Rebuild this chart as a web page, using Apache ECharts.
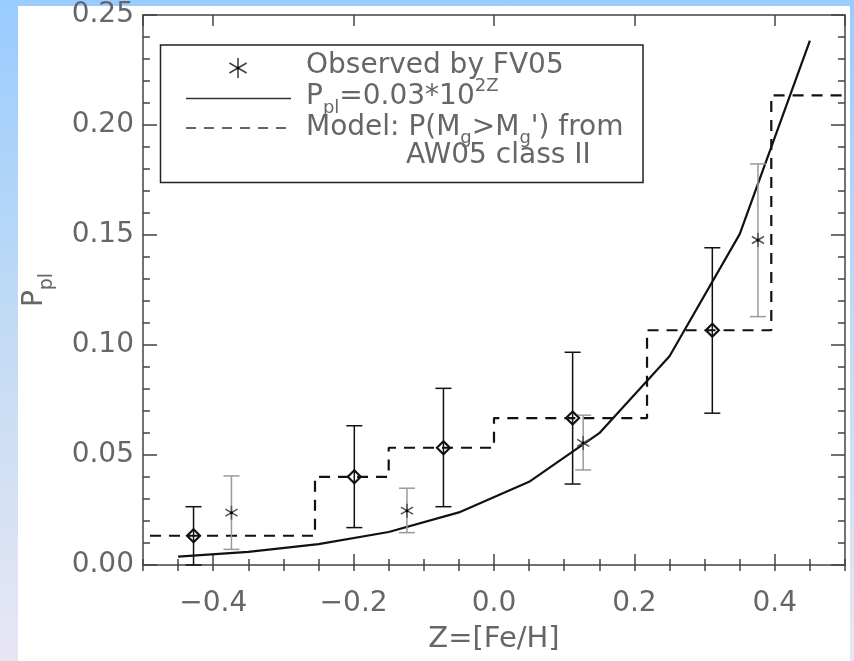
<!DOCTYPE html>
<html>
<head>
<meta charset="utf-8">
<script src="https://cdn.jsdelivr.net/npm/echarts@6/dist/echarts.min.js"></script>
<style>
  html, body { margin: 0; padding: 0; }
  body { width: 854px; height: 661px; position: relative; overflow: hidden;
         background: linear-gradient(to bottom, #99ccff 0%, #c2dbf4 50%, #e8e6f5 100%); }
  #panel { position: absolute; left: 18px; top: 6px; width: 832px; height: 655px; background: #ffffff; }
  #chart { position: absolute; left: 0; top: 0; width: 854px; height: 661px; }
</style>
</head>
<body>
<div id="panel"></div>
<div id="chart"></div>
<script>
// ---- data ----
// solid curve P_pl = 0.03*10^(2Z) (vertices as drawn)
const curveZ = [-0.45, -0.35, -0.25, -0.15, -0.05, 0.05, 0.15, 0.25, 0.35, 0.45];
const curveP = [0.0038, 0.0060, 0.0095, 0.0150, 0.0239, 0.0378, 0.0599, 0.0949, 0.1504, 0.2383];

// dashed model step function (bin left edges and levels)
const stepEdges  = [-0.49, -0.255, -0.15, 0.0, 0.218, 0.395, 0.5];
const stepLevels = [0.0133, 0.0401, 0.0533, 0.0668, 0.1067, 0.2135];

// model points (diamonds) with error bars
const modelZ  = [-0.428, -0.199, -0.072, 0.112, 0.311];
const modelP  = [0.0133, 0.0401, 0.0533, 0.0668, 0.1067];
const modelLo = [0.0000, 0.0170, 0.0265, 0.0368, 0.0690];
const modelHi = [0.0265, 0.0633, 0.0803, 0.0967, 0.1442];

// observed by FV05 (asterisks) with error bars
const obsZ  = [-0.374, -0.124, 0.127, 0.376];
const obsP  = [0.0238, 0.0247, 0.0555, 0.1477];
const obsLo = [0.0071, 0.0147, 0.0432, 0.1129];
const obsHi = [0.0405, 0.0349, 0.0681, 0.1823];

// axis ticks
const xMin = -0.5, xMax = 0.5, xMinorStep = 0.05;
const yMin = 0, yMax = 0.25, yStep = 0.05;

// texts
const xTitle = 'Z=[Fe/H]';
const legendTexts = ['Observed by FV05', 'P_pl=0.03*10^2Z', "Model: P(M_g>M_g') from", 'AW05 class II'];

// ---- build ----
const FONT = 'DejaVu Sans';
const TXT = '#666';
const AX = '#444';

const stepData = stepEdges.map((x, i) => [x, stepLevels[Math.min(i, stepLevels.length - 1)]]);
const curveData = curveZ.map((z, i) => [z, curveP[i]]);
const modelData = modelZ.map((z, i) => [z, modelP[i], modelLo[i], modelHi[i]]);
const obsData = obsZ.map((z, i) => [z, obsP[i], obsLo[i], obsHi[i]]);

function errRender(kind) {
  return function (params, api) {
    const x = api.value(0), y = api.value(1), lo = api.value(2), hi = api.value(3);
    const c = api.coord([x, y]), t = api.coord([x, hi]), b = api.coord([x, lo]);
    const barColor = kind === 'model' ? '#111' : '#9a9a9a';
    const w = 8;
    const ls = { stroke: barColor, lineWidth: 1.5 };
    const ch = [
      { type: 'line', shape: { x1: t[0], y1: t[1], x2: b[0], y2: b[1] }, style: ls },
      { type: 'line', shape: { x1: t[0] - w, y1: t[1], x2: t[0] + w, y2: t[1] }, style: ls },
      { type: 'line', shape: { x1: b[0] - w, y1: b[1], x2: b[0] + w, y2: b[1] }, style: ls }
    ];
    if (kind === 'model') {
      const r = 6.5;
      ch.push({ type: 'polygon', shape: { points: [[c[0], c[1] - r], [c[0] + r, c[1]], [c[0], c[1] + r], [c[0] - r, c[1]]] },
                style: { fill: 'none', stroke: '#111', lineWidth: 2.2 } });
    } else {
      const r = 7;
      for (let k = 0; k < 3; k++) {
        const a = Math.PI / 2 + k * Math.PI / 3;
        ch.push({ type: 'line', shape: { x1: c[0] - r * Math.cos(a), y1: c[1] - r * Math.sin(a), x2: c[0] + r * Math.cos(a), y2: c[1] + r * Math.sin(a) },
                  style: { stroke: '#555', lineWidth: 1.6 } });
      }
      ch.push({ type: 'circle', shape: { cx: c[0], cy: c[1], r: 1.5 }, style: { fill: '#000' } });
    }
    return { type: 'group', children: ch };
  };
}

function fmtX(v) {
  const r = Math.round(v * 10) / 10;
  if (Math.abs(r) < 1e-9) return '0.0';
  return (r < 0 ? '\u2212' : '') + Math.abs(r).toFixed(1);
}

const majorX = (pos, withLabels) => ({
  type: 'value', position: pos, min: xMin, max: xMax, splitNumber: 5,
  axisLine: { show: true, onZero: false, lineStyle: { color: AX, width: 1.5 } },
  axisTick: { show: true, inside: true, length: 11, lineStyle: { color: AX, width: 1.5 } },
  axisLabel: { show: withLabels, showMinLabel: false, showMaxLabel: false, formatter: fmtX,
               fontFamily: FONT, fontSize: 28, color: TXT, margin: 25 },
  splitLine: { show: false }
});
const minorX = (pos) => ({
  type: 'value', position: pos, min: xMin, max: xMax, interval: xMinorStep,
  axisLine: { show: false },
  axisTick: { show: true, inside: true, length: 6, lineStyle: { color: AX, width: 1.5 } },
  axisLabel: { show: false }, splitLine: { show: false }
});
const yAx = (pos, withLabels) => ({
  type: 'value', position: pos, min: yMin, max: yMax, interval: yStep,
  axisLine: { show: true, onZero: false, lineStyle: { color: AX, width: 1.5 } },
  axisTick: { show: true, inside: true, length: 14, lineStyle: { color: AX, width: 1.5 } },
  minorTick: { show: true, splitNumber: 5, length: 7, lineStyle: { color: AX, width: 1.5 } },
  axisLabel: { show: withLabels, formatter: v => v.toFixed(2), fontFamily: FONT, fontSize: 28, color: TXT, margin: 9,
               padding: [4, 0, 0, 0] },
  splitLine: { show: false }, minorSplitLine: { show: false }
});

const xAxes = [majorX('bottom', true), minorX('bottom'), majorX('top', false), minorX('top')];
Object.assign(xAxes[0], {
  name: xTitle, nameLocation: 'middle', nameGap: 60,
  nameTextStyle: { fontFamily: FONT, fontSize: 29, color: TXT }
});
const yAxes = [yAx('left', true), yAx('right', false)];
Object.assign(yAxes[0], {
  name: '{m|P}{s|pl}', nameLocation: 'middle', nameRotate: 90, nameGap: 86,
  nameTextStyle: { rich: {
    m: { fontFamily: FONT, fontSize: 28, color: TXT, lineHeight: 44, verticalAlign: 'middle' },
    s: { fontFamily: FONT, fontSize: 19, color: TXT, lineHeight: 14, verticalAlign: 'bottom' }
  } }
});

// legend (drawn with graphic elements)
const richL = {
  m: { fontFamily: FONT, fontSize: 28, fill: TXT, lineHeight: 40, verticalAlign: 'middle' },
  s: { fontFamily: FONT, fontSize: 18, fill: TXT, lineHeight: 14, verticalAlign: 'bottom' },
  u: { fontFamily: FONT, fontSize: 18, fill: TXT, lineHeight: 14, verticalAlign: 'top' }
};
function toRich(s) {
  // '_x' -> subscript token, '^x' -> superscript token
  let out = '', buf = '', i = 0;
  const flush = () => { if (buf) { out += '{m|' + buf + '}'; buf = ''; } };
  while (i < s.length) {
    const ch = s[i];
    if (ch === '_' || ch === '^') {
      flush();
      let j = i + 1, tok = '';
      while (j < s.length && /[A-Za-z0-9]/.test(s[j])) { tok += s[j]; j++; }
      out += '{' + (ch === '_' ? 's' : 'u') + '|' + tok + '}';
      i = j;
    } else { buf += ch; i++; }
  }
  flush();
  return out;
}
const astCx = 238, astCy = 68, astR = 10;
const astLines = [0, 1, 2].map(k => {
  const a = Math.PI / 2 + k * Math.PI / 3;
  return { type: 'line', shape: { x1: astCx - astR * Math.cos(a), y1: astCy - astR * Math.sin(a), x2: astCx + astR * Math.cos(a), y2: astCy + astR * Math.sin(a) },
           style: { stroke: '#444', lineWidth: 1.6 }, z: 10 };
});
const legendRows = [66, 97, 127.5, 156];
const legendX = [306, 306, 306, 406];
const graphic = [
  { type: 'rect', shape: { x: 160.5, y: 45, width: 482.5, height: 137.5 }, style: { fill: '#fff', stroke: '#222', lineWidth: 1.5 }, z: 5 },
  ...astLines,
  { type: 'circle', shape: { cx: astCx, cy: astCy, r: 1.6 }, style: { fill: '#000' }, z: 11 },
  { type: 'line', shape: { x1: 186, y1: 98.5, x2: 291, y2: 98.5 }, style: { stroke: '#333', lineWidth: 1.5 }, z: 10 },
  { type: 'line', shape: { x1: 186, y1: 128, x2: 291, y2: 128 }, style: { stroke: '#333', lineWidth: 1.5, lineDash: [10, 8] }, z: 10 },
  ...legendTexts.map((t, i) => ({
    type: 'text', x: legendX[i], y: legendRows[i], z: 10,
    style: { text: toRich(t), rich: richL, align: 'left', verticalAlign: 'middle', fontFamily: FONT, fontSize: 28, fill: TXT }
  }))
];

const chart = echarts.init(document.getElementById('chart'), null, { renderer: 'canvas' });
chart.setOption({
  backgroundColor: 'transparent',
  animation: false,
  grid: { left: 143, right: 9, top: 15, bottom: 96, containLabel: false },
  xAxis: xAxes,
  yAxis: yAxes,
  graphic: graphic,
  series: [
    { name: 'Model: P(Mg>Mg\') from AW05 class II', type: 'line', step: 'end', data: stepData, symbol: 'none',
      lineStyle: { color: '#111', width: 2.2, type: [11, 8] }, z: 2 },
    { name: 'Ppl=0.03*10^2Z', type: 'line', data: curveData, symbol: 'none', smooth: false,
      lineStyle: { color: '#111', width: 2.2 }, z: 3 },
    { name: 'Observed by FV05', type: 'custom', renderItem: errRender('obs'), data: obsData,
      encode: { x: 0, y: 1 }, z: 4 },
    { name: 'Model points', type: 'custom', renderItem: errRender('model'), data: modelData,
      encode: { x: 0, y: 1 }, z: 5 }
  ]
});
</script>
</body>
</html>
